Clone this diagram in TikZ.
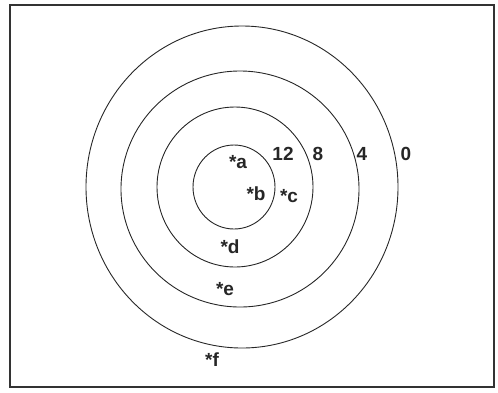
\documentclass[tikz,border=0pt]{standalone}
\usepackage{fontspec}
\setmainfont{Liberation Sans}
\begin{document}
\begin{tikzpicture}[x=1pt,y=-1pt,
  ring/.style={draw=black!85,line width=0.9pt},
  lbl/.style={inner sep=0pt,anchor=base,font=\fontsize{19}{21}\selectfont\bfseries,text=black!85},
  frame/.style={draw=black!80,line width=1.2pt}]
\useasboundingbox (0,0) rectangle (498,392);
\draw[frame] (10,5) rectangle (494,387);
\draw[ring] (242,187) ellipse [x radius=156, y radius=161];
\draw[ring] (240,189) ellipse [x radius=119, y radius=118];
\draw[ring] (235,187) ellipse [x radius=78, y radius=80];
\draw[ring] (234,187) ellipse [x radius=41, y radius=42];
\node[lbl] (n12) at (283,160) {12};
\node[lbl] (n8) at (318,160) {8};
\node[lbl] (n4) at (362,160) {4};
\node[lbl] (n0) at (406,160) {0};
\node[lbl] (a) at (238,168) {*a};
\node[lbl] (b) at (256,200) {*b};
\node[lbl] (c) at (289,202) {*c};
\node[lbl] (d) at (230,253) {*d};
\node[lbl] (e) at (225,295) {*e};
\node[lbl] (f) at (212,366) {*f};
\end{tikzpicture}
\end{document}
